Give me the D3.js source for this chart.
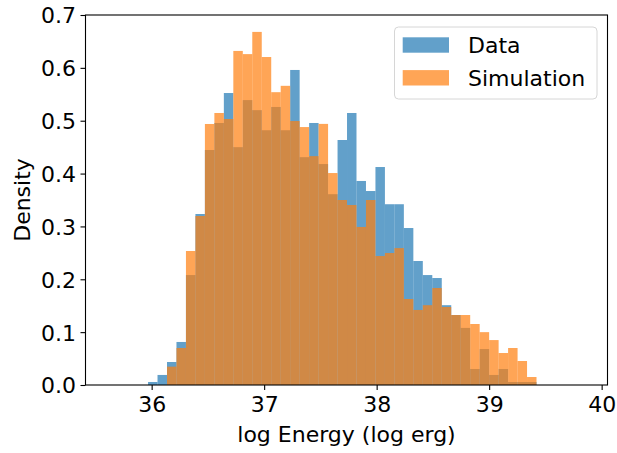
<!DOCTYPE html>
<html>
<head>
<meta charset="utf-8">
<script src="https://cdn.jsdelivr.net/npm/d3@7"></script>
<style>
  body { margin: 0; background: #fff; }
  svg text { font-family: "DejaVu Sans", sans-serif; fill: #000; }
</style>
</head>
<body>
<svg id="chart" width="617" height="453"></svg>
<script>
// histogram bins (log erg)
const binStart = 35.968;
const binWidth = 0.08422;

const dataDensity = [
  0.0057, 0.019, 0.0435, 0.0814, 0.208, 0.3235, 0.4446, 0.4957, 0.5524, 0.450,
  0.539, 0.520, 0.482, 0.526, 0.482, 0.596, 0.431, 0.4957, 0.418, 0.361,
  0.4635, 0.5146, 0.386, 0.367, 0.4124, 0.342, 0.342, 0.297, 0.2346, 0.208,
  0.2024, 0.151, 0.1324, 0.108, 0.0303, 0.068, 0.019, 0.0303, 0.0057, 0.0057,
  0.0057
];

const simDensity = [
  0, 0, 0.0347, 0.070, 0.2535, 0.3197, 0.4938, 0.5146, 0.5032, 0.632,
  0.626, 0.668, 0.6205, 0.554, 0.566, 0.4994, 0.488, 0.433, 0.494, 0.401,
  0.350, 0.3405, 0.299, 0.350, 0.244, 0.2497, 0.259, 0.1627, 0.142, 0.151,
  0.1835, 0.1476, 0.1324, 0.1324, 0.1154, 0.100, 0.085, 0.0605, 0.070, 0.0454,
  0.0151
];

const xTicks = [36, 37, 38, 39, 40];
const yTicks = [0, 0.1, 0.2, 0.3, 0.4, 0.5, 0.6, 0.7];
const seriesNames = ["Data", "Simulation"];
const colors = ["#1f77b4", "#ff7f0e"];

const margin = {top: 15, right: 9.5, bottom: 68, left: 85.5};
const width = 617, height = 453;
const fontSize = "22px";

const svg = d3.select("#chart");

const x = d3.scaleLinear()
  .domain([35.412, 40.052])
  .range([margin.left, width - margin.right]);

const y = d3.scaleLinear()
  .domain([0, 0.7])
  .range([height - margin.bottom, margin.top]);

function toBins(values) {
  return values.map(function(v, i) {
    return {x0: binStart + i * binWidth, x1: binStart + (i + 1) * binWidth, value: v};
  });
}

[dataDensity, simDensity].forEach(function(values, k) {
  svg.append("g")
    .selectAll("rect")
    .data(toBins(values).filter(d => d.value > 0))
    .enter()
    .append("rect")
    .attr("x", d => x(d.x0))
    .attr("width", d => x(d.x1) - x(d.x0))
    .attr("y", d => y(d.value))
    .attr("height", d => y(0) - y(d.value))
    .attr("fill", colors[k])
    .attr("fill-opacity", 0.7);
});

// axes
const xAxis = svg.append("g")
  .attr("transform", `translate(0,${height - margin.bottom})`)
  .call(d3.axisBottom(x).tickValues(xTicks).tickFormat(d3.format("d")).tickSize(5).tickPadding(6).tickSizeOuter(0));

const yAxis = svg.append("g")
  .attr("transform", `translate(${margin.left},0)`)
  .call(d3.axisLeft(y).tickValues(yTicks).tickFormat(d3.format(".1f")).tickSize(5).tickPadding(4.5).tickSizeOuter(0));

[xAxis, yAxis].forEach(function(g) {
  g.select(".domain").remove();
  g.selectAll(".tick line").attr("stroke", "#000").attr("stroke-width", 1.1);
  g.selectAll(".tick text").style("font-size", fontSize).attr("fill", "#000");
});
yAxis.selectAll(".tick text").attr("dy", "0.36em");

// frame
svg.append("rect")
  .attr("x", margin.left)
  .attr("y", margin.top)
  .attr("width", width - margin.left - margin.right)
  .attr("height", height - margin.top - margin.bottom)
  .attr("fill", "none")
  .attr("stroke", "#000")
  .attr("stroke-width", 1.1);

svg.append("text")
  .attr("x", (margin.left + width - margin.right) / 2)
  .attr("y", 442)
  .attr("text-anchor", "middle")
  .style("font-size", fontSize)
  .text("log Energy (log erg)");

svg.append("text")
  .attr("transform", `translate(30,${(margin.top + height - margin.bottom) / 2}) rotate(-90)`)
  .attr("text-anchor", "middle")
  .style("font-size", fontSize)
  .text("Density");

// legend
const legend = svg.append("g");
legend.append("rect")
  .attr("x", 394.5)
  .attr("y", 27)
  .attr("width", 202.5)
  .attr("height", 72)
  .attr("rx", 4)
  .attr("fill", "#fff")
  .attr("fill-opacity", 0.8)
  .attr("stroke", "#d6d6d6")
  .attr("stroke-width", 1);

seriesNames.forEach(function(name, i) {
  legend.append("rect")
    .attr("x", 402.7)
    .attr("y", 37.3 + i * 32.8)
    .attr("width", 46.3)
    .attr("height", 15.4)
    .attr("fill", colors[i])
    .attr("fill-opacity", 0.7);
  legend.append("text")
    .attr("x", 468)
    .attr("y", 52.5 + i * 33.5)
    .style("font-size", fontSize)
    .text(name);
});
</script>
</body>
</html>
